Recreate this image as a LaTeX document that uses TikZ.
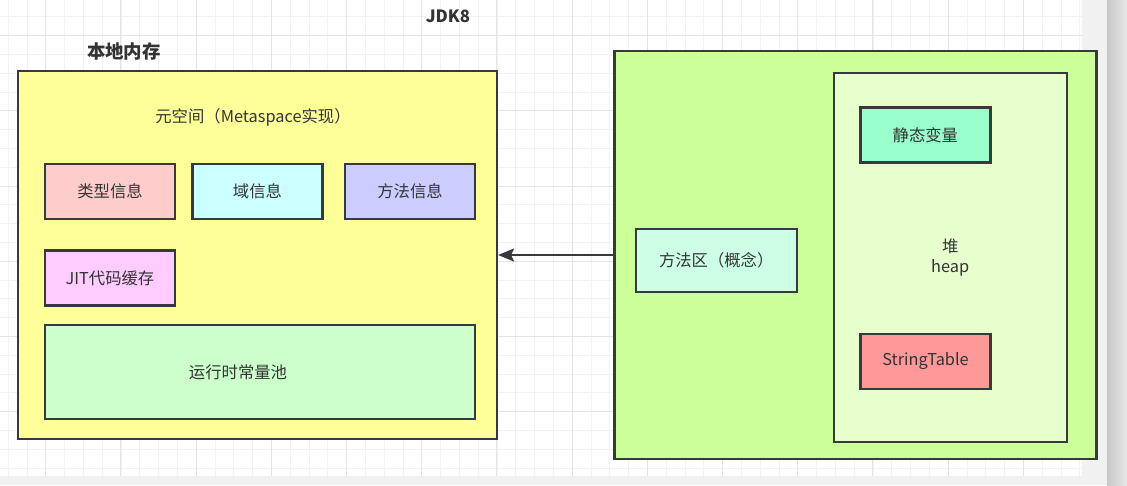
\documentclass[tikz,border=0pt]{standalone}
\usepackage{fontspec}
\setmainfont{Noto Sans CJK SC}
\usetikzlibrary{arrows.meta}

\definecolor{strokegray}{HTML}{36393D}
\definecolor{textgray}{HTML}{333333}
\definecolor{canvasgray}{HTML}{F1F1F1}
\definecolor{gridminor}{HTML}{F2F2F2}
\definecolor{gridmajor}{HTML}{E4E4E4}
\definecolor{nativeyellow}{HTML}{FFFF99}
\definecolor{typepink}{HTML}{FFCCCC}
\definecolor{fieldcyan}{HTML}{CCFFFF}
\definecolor{methodblue}{HTML}{CCCCFF}
\definecolor{jitpink}{HTML}{FFCCFF}
\definecolor{poolgreen}{HTML}{CCFFCC}
\definecolor{jvmgreen}{HTML}{CCFF99}
\definecolor{heapgreen}{HTML}{E6FFCC}
\definecolor{methodarea}{HTML}{CCFFE6}
\definecolor{staticgreen}{HTML}{99FFCC}
\definecolor{stringred}{HTML}{FF9999}

\tikzset{
	box/.style={draw=strokegray, line width=1.3pt, text=textgray, align=center,
		font=\fontsize{9.3}{11.3}\selectfont},
	infobox/.style={minimum width=2.6cm, minimum height=1.1cm},
	plainlabel/.style={text=textgray, font=\fontsize{9.3}{11.3}\selectfont},
	titlelabel/.style={text=textgray, font=\bfseries\fontsize{10.5}{12}\selectfont},
	connector/.style={draw=strokegray, line width=1.2pt,
		-{Stealth[length=3.2mm, width=2.6mm, inset=0.6mm]}},
}

\begin{document}
\begin{tikzpicture}[x=0.02cm, y=-0.02cm]
		%%%%% START %%%%%
		
		\useasboundingbox (0,0) rectangle (1127,485);
		\fill[canvasgray] (0,0) rectangle (1127,485);
		\shade[left color=black!22, right color=black!9] (1107,0) rectangle (1127,485);
		\fill[white] (0,0) rectangle (1082,476);
		
		% grid
		\begin{scope}
			\clip (0,0) rectangle (1082,476);
			\foreach \i in {0,...,57}
				\draw[gridminor, line width=0.5pt] ({8.3+18.8*\i},0) -- ({8.3+18.8*\i},476);
			\foreach \k in {-1,...,23}
				\draw[gridminor, line width=0.5pt] (0,{35.7+18.8*\k}) -- (1082,{35.7+18.8*\k});
			\foreach \i in {0,...,14}
				\draw[gridmajor, line width=0.5pt] ({45.7+75.2*\i},0) -- ({45.7+75.2*\i},476);
			\foreach \k in {0,...,5}
				\draw[gridmajor, line width=0.5pt] (0,{35.7+75.2*\k}) -- (1082,{35.7+75.2*\k});
		\end{scope}
		
		\node[titlelabel, font=\bfseries\fontsize{9.6}{11}\selectfont] (jdk) at (448,16) {JDK8};
		
		% native memory
		\node[titlelabel] (nativetitle) at (124,51) {本地内存};
		\node[box, fill=nativeyellow, minimum width=9.58cm, minimum height=7.36cm] (native) at (257.5,255) {};
		\node[plainlabel] (metalabel) at (253,117.5) {元空间（Metaspace实现）};
		\node[box, infobox, fill=typepink] (typeinfo) at (110,191.5) {类型信息};
		\node[box, infobox, fill=fieldcyan] (fieldinfo) at (257.5,191.5) {域信息};
		\node[box, infobox, fill=methodblue] (methodinfo) at (410,191.5) {方法信息};
		\node[box, infobox, fill=jitpink] (jitcache) at (110,278) {JIT代码缓存};
		\node[box, fill=poolgreen, minimum width=8.6cm, minimum height=1.88cm] (pool) at (260,372) {};
		\node[plainlabel] (poollabel) at (238,372.7) {运行时常量池};
		
		% jvm side
		\node[box, fill=jvmgreen, minimum width=9.64cm, minimum height=8.16cm] (jvm) at (855.4,255) {};
		\node[box, fill=methodarea, minimum width=3.22cm, minimum height=1.25cm] (methodarea) at (716.2,260.4) {方法区（概念）};
		\node[box, fill=heapgreen, minimum width=4.66cm, minimum height=7.37cm] (heap) at (950.2,257.5) {堆\\heap};
		\node[box, infobox, fill=staticgreen] (staticvar) at (925.4,135) {静态变量};
		\node[box, infobox, fill=stringred] (stringtable) at (925.5,361.2) {StringTable};
		
		\draw[connector] (jvm.west) -- (native.east);
		
		%%%%% END %%%%%
\end{tikzpicture}
\end{document}
